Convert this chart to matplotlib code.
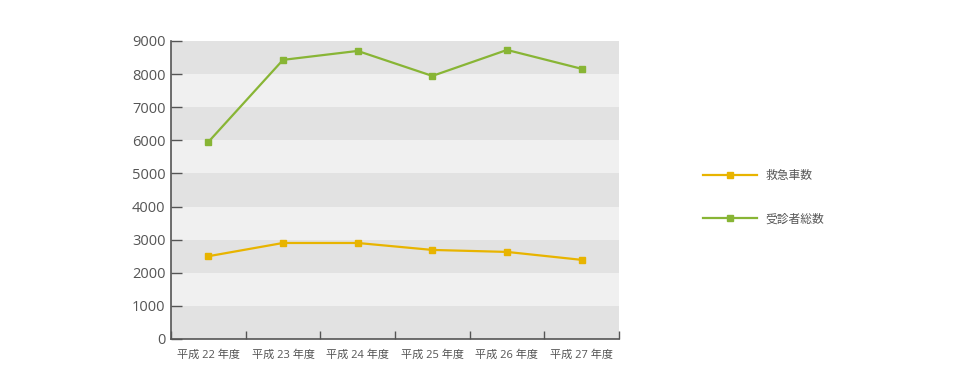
import matplotlib
matplotlib.use("Agg")
import matplotlib.pyplot as plt

plt.rcParams['font.family'] = ['Open Sans', 'Noto Sans CJK JP', 'DejaVu Sans']

years = ["平成 22 年度", "平成 23 年度", "平成 24 年度", "平成 25 年度", "平成 26 年度", "平成 27 年度"]
ambulance = [2500, 2900, 2900, 2690, 2630, 2390]   # 救急車数
patients = [5950, 8430, 8700, 7945, 8730, 8160]    # 受診者総数

text_c = "#555555"
fig = plt.figure(figsize=(9.62, 3.84), dpi=100)
ax = fig.add_axes([171/962, 1 - 339/384, (619 - 171)/962, (339 - 41)/384])

# alternating bands
for i in range(9):
    ax.axhspan(i*1000, (i+1)*1000, color="#e2e2e2" if i % 2 == 0 else "#f0f0f0", lw=0, zorder=0)

x = range(len(years))
ax.plot(x, ambulance, color="#e8b400", lw=1.6, marker="s", ms=5, label="救急車数", zorder=3)
ax.plot(x, patients, color="#88b535", lw=1.6, marker="s", ms=5, label="受診者総数", zorder=3)

ax.set_xlim(-0.5, len(years) - 0.5)
ax.set_ylim(0, 9000)
ax.set_yticks(range(0, 9001, 1000))
ax.set_xticks([i + 0.5 for i in range(-1, len(years))], minor=False)
ax.set_xticklabels([])
ax.set_xticks(list(x), minor=True)
ax.set_xticklabels(years, minor=True)
ax.tick_params(axis="x", which="major", direction="in", length=6, width=1, color=text_c)
ax.tick_params(axis="x", which="minor", length=0, pad=8, labelsize=8, labelcolor=text_c)
ax.tick_params(axis="y", direction="in", length=8, width=1, color=text_c, labelsize=10.5,
               labelcolor=text_c, pad=4)
for s in ["top", "right"]:
    ax.spines[s].set_visible(False)
for s in ["left", "bottom"]:
    ax.spines[s].set_color(text_c)
    ax.spines[s].set_linewidth(1.2)

leg = ax.legend(loc="center left", bbox_to_anchor=(703/962, 1 - 197/384), bbox_transform=fig.transFigure,
                frameon=False, fontsize=8.5, handlelength=4.6, labelspacing=2.6, handletextpad=0.7,
                borderaxespad=0, borderpad=0)
for t in leg.get_texts():
    t.set_color(text_c)

fig.savefig("out.png", dpi=100)
